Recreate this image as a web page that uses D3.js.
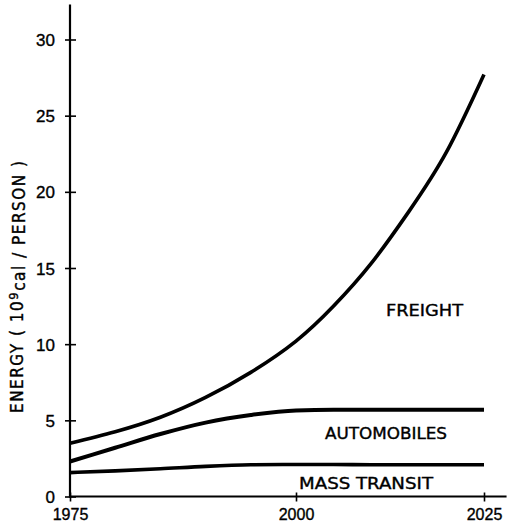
<!DOCTYPE html>
<html>
<head>
<meta charset="utf-8">
<script src="https://cdn.jsdelivr.net/npm/d3@7"></script>
<style>
  body { margin: 0; background: #fff; }
  svg { display: block; font-family: "DejaVu Sans Condensed", "DejaVu Sans", sans-serif; }
  text { fill: #000; stroke: #000; stroke-width: 0.35px; }
</style>
</head>
<body>
<div id="wrapper"></div>
<script>
// values (10^9 cal per person)
const years = [1975, 1980, 1985, 1990, 1995, 2000, 2005, 2010, 2015, 2020, 2025];
const freight = [3.5, 4.25, 5.2, 6.5, 8.15, 10.2, 12.5, 15.3, 18.7, 22.6, 27.7];
const automobiles = [2.3, 3.2, 4.1, 4.85, 5.35, 5.65, 5.69, 5.69, 5.69, 5.69, 5.69];
const massTransit = [1.57, 1.68, 1.82, 1.98, 2.08, 2.1, 2.1, 2.08, 2.08, 2.08, 2.08];
const yTicks = [0, 5, 10, 15, 20, 25, 30];
const xTicks = [1975, 2000, 2025];

const width = 508, height = 527;

var svg = d3.select("#wrapper").append("svg").attr("width", width).attr("height", height);

// the printed x axis is not evenly spaced, so the scale is piecewise
var x = d3.scaleLinear().domain([1975, 2000, 2025]).range([70, 296, 484]);
var y = d3.scaleLinear().domain([0, 30]).range([496.5, 39.5]);

// axes
var yAxis = svg.append("g").attr("transform", "translate(" + x(1975) + ",0)")
  .call(d3.axisLeft(y).tickValues(yTicks).tickSizeOuter(0).tickSize(5).tickPadding(10));
yAxis.select(".domain").remove();
yAxis.selectAll(".tick line").attr("x1", 6).attr("x2", -5).attr("stroke-width", 1.6);
yAxis.selectAll(".tick text").style("font-size", "17px").attr("dy", "0.36em");

var xAxis = svg.append("g").attr("transform", "translate(0," + y(0) + ")")
  .call(d3.axisBottom(x).tickValues(xTicks).tickFormat(d3.format("d")).tickSizeOuter(0).tickSize(5).tickPadding(7));
xAxis.select(".domain").remove();
xAxis.selectAll(".tick line").attr("y1", -4).attr("y2", 5).attr("stroke-width", 1.6);
xAxis.selectAll(".tick text").style("font-size", "16px");

svg.append("line")
  .attr("x1", x(1975)).attr("x2", x(1975))
  .attr("y1", y(0) + 1).attr("y2", y(32.3))
  .attr("stroke", "#000").attr("stroke-width", 2.2);
svg.append("line")
  .attr("x1", x(1975) - 1).attr("x2", x(2028))
  .attr("y1", y(0)).attr("y2", y(0))
  .attr("stroke", "#000").attr("stroke-width", 2.2);

// curves
var series = [
  { name: "FREIGHT", values: freight, w: 3.6, curve: d3.curveNatural },
  { name: "AUTOMOBILES", values: automobiles, w: 4, curve: d3.curveMonotoneX },
  { name: "MASS TRANSIT", values: massTransit, w: 3.6, curve: d3.curveMonotoneX }
];

svg.selectAll(".curve")
  .data(series)
  .enter().append("path")
  .attr("class", "curve")
  .attr("fill", "none")
  .attr("stroke", "#000")
  .attr("stroke-width", function(d) { return d.w; })
  .attr("d", function(d) {
    var line = d3.line()
      .x(function(p) { return x(p[0]); })
      .y(function(p) { return y(p[1]); })
      .curve(d.curve);
    return line(years.map(function(yr, i) { return [yr, d.values[i]]; }));
  });

// series labels
svg.append("text").attr("x", 386).attr("y", 316).attr("textLength", 77).attr("lengthAdjust", "spacingAndGlyphs")
  .style("font-size", "16px").text("FREIGHT");
svg.append("text").attr("x", 325).attr("y", 439).attr("textLength", 122).attr("lengthAdjust", "spacingAndGlyphs")
  .style("font-size", "16px").text("AUTOMOBILES");
svg.append("text").attr("x", 299).attr("y", 489).attr("textLength", 134).attr("lengthAdjust", "spacingAndGlyphs")
  .style("font-size", "16px").text("MASS  TRANSIT");

// y axis title
var title = svg.append("text")
  .attr("transform", "translate(23,287) rotate(-90)")
  .attr("text-anchor", "middle")
  .attr("textLength", 252).attr("lengthAdjust", "spacing")
  .style("font-size", "17px");
title.append("tspan").text("ENERGY ( 10");
title.append("tspan").attr("dy", "-0.4em").style("font-size", "13px").text("9");
title.append("tspan").attr("dy", "0.4em").text("cal / PERSON )");
</script>
</body>
</html>
